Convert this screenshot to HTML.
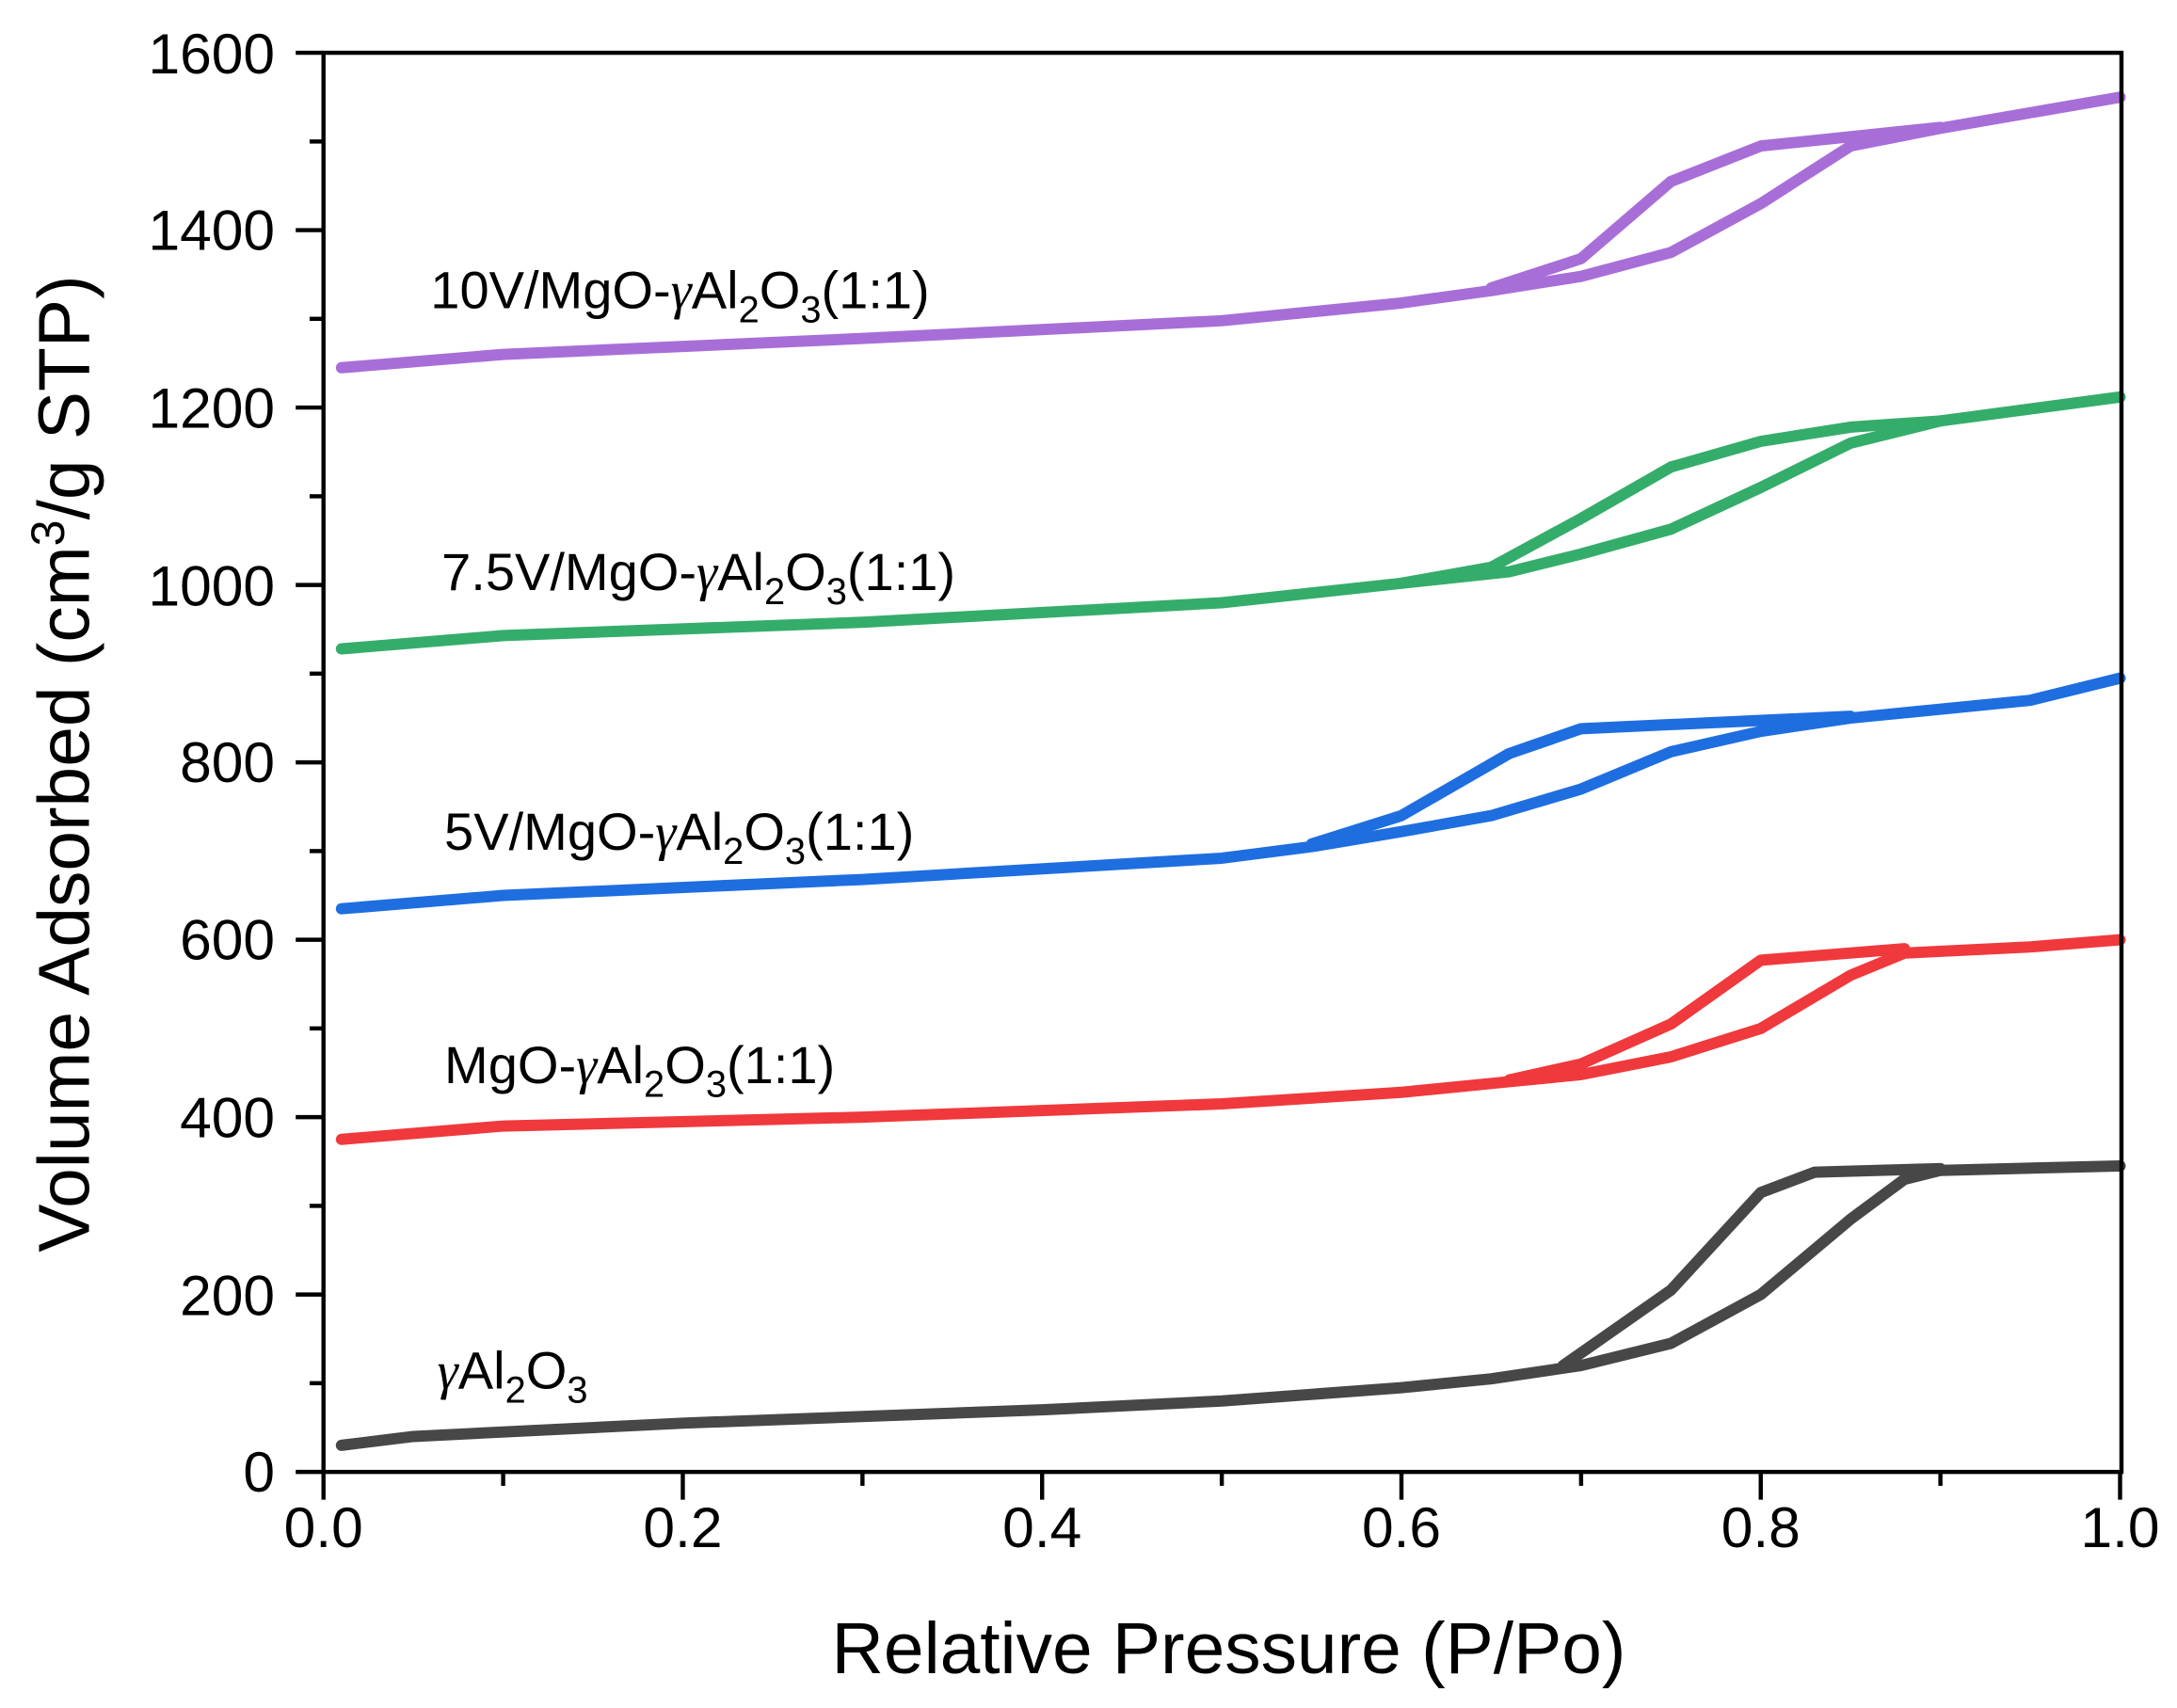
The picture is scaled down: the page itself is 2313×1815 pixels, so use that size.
<!DOCTYPE html>
<html><head><meta charset="utf-8"><style>
html,body{margin:0;padding:0;background:#fff}
svg{display:block}
text{font-family:"Liberation Sans",Arial,sans-serif;fill:#000}
</style></head><body>
<svg width="2313" height="1815" viewBox="0 0 1568 1230" preserveAspectRatio="none" xmlns="http://www.w3.org/2000/svg">
<rect x="0" y="0" width="1568" height="1230" fill="#fff"/>
<g fill="none" stroke-linejoin="round" stroke-linecap="round">
<g transform="translate(233,1060) scale(1294,-0.6387)">
<polyline vector-effect="non-scaling-stroke" stroke="#474747" stroke-width="12" points="0.01,30 0.05,40 0.2,55 0.4,70 0.5,80 0.6,95 0.65,105 0.7,120 0.75,145 0.8,200 0.85,285 0.88,330 0.9,340 1.0,345"/>
<polyline vector-effect="non-scaling-stroke" stroke="#474747" stroke-width="12" points="0.9,342 0.83,338 0.8,315 0.75,205 0.69,120"/>
<polyline vector-effect="non-scaling-stroke" stroke="#f0393c" stroke-width="12" points="0.01,375 0.1,390 0.3,400 0.5,415 0.6,428 0.66,440 0.7,448 0.75,468 0.8,500 0.85,560 0.88,585 0.95,592 1.0,600"/>
<polyline vector-effect="non-scaling-stroke" stroke="#f0393c" stroke-width="12" points="0.88,590 0.8,577 0.75,505 0.7,460 0.66,442"/>
<polyline vector-effect="non-scaling-stroke" stroke="#1e6ee0" stroke-width="12" points="0.01,635 0.1,650 0.3,668 0.5,692 0.55,705 0.6,722 0.65,740 0.7,770 0.75,812 0.8,835 0.85,850 0.95,870 1.0,895"/>
<polyline vector-effect="non-scaling-stroke" stroke="#1e6ee0" stroke-width="12" points="0.85,852 0.7,838 0.66,810 0.6,740 0.55,708"/>
<polyline vector-effect="non-scaling-stroke" stroke="#35ad6a" stroke-width="12" points="0.01,928 0.1,943 0.3,958 0.5,980 0.6,1002 0.66,1015 0.7,1035 0.75,1063 0.8,1110 0.85,1160 0.9,1185 1.0,1212"/>
<polyline vector-effect="non-scaling-stroke" stroke="#35ad6a" stroke-width="12" points="0.9,1185 0.85,1178 0.8,1162 0.75,1133 0.7,1075 0.65,1020 0.6,1002"/>
<polyline vector-effect="non-scaling-stroke" stroke="#a86ed8" stroke-width="12" points="0.01,1245 0.1,1260 0.3,1278 0.5,1298 0.6,1318 0.65,1332 0.7,1348 0.75,1375 0.8,1430 0.85,1495 0.9,1515 1.0,1550"/>
<polyline vector-effect="non-scaling-stroke" stroke="#a86ed8" stroke-width="12" points="0.9,1516 0.8,1495 0.75,1455 0.7,1368 0.65,1335"/>
</g>
</g>
<rect x="233" y="38" width="1295" height="1022" fill="none" stroke="#000" stroke-width="3"/>
<g stroke="#000" stroke-width="3">
<line x1="213" y1="1060" x2="233" y2="1060"/><line x1="213" y1="932.25" x2="233" y2="932.25"/>
<line x1="213" y1="804.5" x2="233" y2="804.5"/><line x1="213" y1="676.75" x2="233" y2="676.75"/>
<line x1="213" y1="549" x2="233" y2="549"/><line x1="213" y1="421.25" x2="233" y2="421.25"/>
<line x1="213" y1="293.5" x2="233" y2="293.5"/><line x1="213" y1="165.75" x2="233" y2="165.75"/>
<line x1="213" y1="38" x2="233" y2="38"/>
<line x1="223" y1="996.1" x2="233" y2="996.1"/><line x1="223" y1="868.4" x2="233" y2="868.4"/>
<line x1="223" y1="740.6" x2="233" y2="740.6"/><line x1="223" y1="612.9" x2="233" y2="612.9"/>
<line x1="223" y1="485.1" x2="233" y2="485.1"/><line x1="223" y1="357.4" x2="233" y2="357.4"/>
<line x1="223" y1="229.6" x2="233" y2="229.6"/><line x1="223" y1="101.9" x2="233" y2="101.9"/>
<line x1="233" y1="1060" x2="233" y2="1080"/><line x1="491.8" y1="1060" x2="491.8" y2="1080"/>
<line x1="750.6" y1="1060" x2="750.6" y2="1080"/><line x1="1009.4" y1="1060" x2="1009.4" y2="1080"/>
<line x1="1268.2" y1="1060" x2="1268.2" y2="1080"/><line x1="1527" y1="1060" x2="1527" y2="1080"/>
<line x1="362.4" y1="1060" x2="362.4" y2="1070"/><line x1="621.2" y1="1060" x2="621.2" y2="1070"/>
<line x1="880" y1="1060" x2="880" y2="1070"/><line x1="1138.8" y1="1060" x2="1138.8" y2="1070"/>
<line x1="1397.6" y1="1060" x2="1397.6" y2="1070"/>
</g>
<g font-size="41" text-anchor="end">
<text x="198" y="1074">0</text><text x="198" y="947">200</text><text x="198" y="819">400</text>
<text x="198" y="691">600</text><text x="198" y="563">800</text><text x="198" y="436">1000</text>
<text x="198" y="308">1200</text><text x="198" y="180">1400</text><text x="198" y="53">1600</text>
</g>
<g font-size="41" text-anchor="middle">
<text x="233" y="1114">0.0</text><text x="491.8" y="1114">0.2</text><text x="750.6" y="1114">0.4</text>
<text x="1009.4" y="1114">0.6</text><text x="1268.2" y="1114">0.8</text><text x="1527" y="1114">1.0</text>
</g>
<text x="885" y="1205" font-size="52" text-anchor="middle">Relative Pressure (P/Po)</text>
<text transform="translate(64,550) rotate(-90)" font-size="52" text-anchor="middle">Volume Adsorbed (cm<tspan font-size="34" dy="-18">3</tspan><tspan dy="18">/g STP)</tspan></text>
<g font-size="38">
<text x="310" y="222">10V/MgO-<tspan font-family="Liberation Serif" font-style="italic">γ</tspan>Al<tspan font-size="27" dy="10">2</tspan><tspan dy="-10">O</tspan><tspan font-size="27" dy="10">3</tspan><tspan dy="-10">(1:1)</tspan></text>
<text x="318" y="425">7.5V/MgO-<tspan font-family="Liberation Serif" font-style="italic">γ</tspan>Al<tspan font-size="27" dy="10">2</tspan><tspan dy="-10">O</tspan><tspan font-size="27" dy="10">3</tspan><tspan dy="-10">(1:1)</tspan></text>
<text x="320" y="612">5V/MgO-<tspan font-family="Liberation Serif" font-style="italic">γ</tspan>Al<tspan font-size="27" dy="10">2</tspan><tspan dy="-10">O</tspan><tspan font-size="27" dy="10">3</tspan><tspan dy="-10">(1:1)</tspan></text>
<text x="320" y="780">MgO-<tspan font-family="Liberation Serif" font-style="italic">γ</tspan>Al<tspan font-size="27" dy="10">2</tspan><tspan dy="-10">O</tspan><tspan font-size="27" dy="10">3</tspan><tspan dy="-10">(1:1)</tspan></text>
<text x="315" y="1000"><tspan font-family="Liberation Serif" font-style="italic">γ</tspan>Al<tspan font-size="27" dy="10">2</tspan><tspan dy="-10">O</tspan><tspan font-size="27" dy="10">3</tspan></text>
</g>
</svg>
</body></html>
